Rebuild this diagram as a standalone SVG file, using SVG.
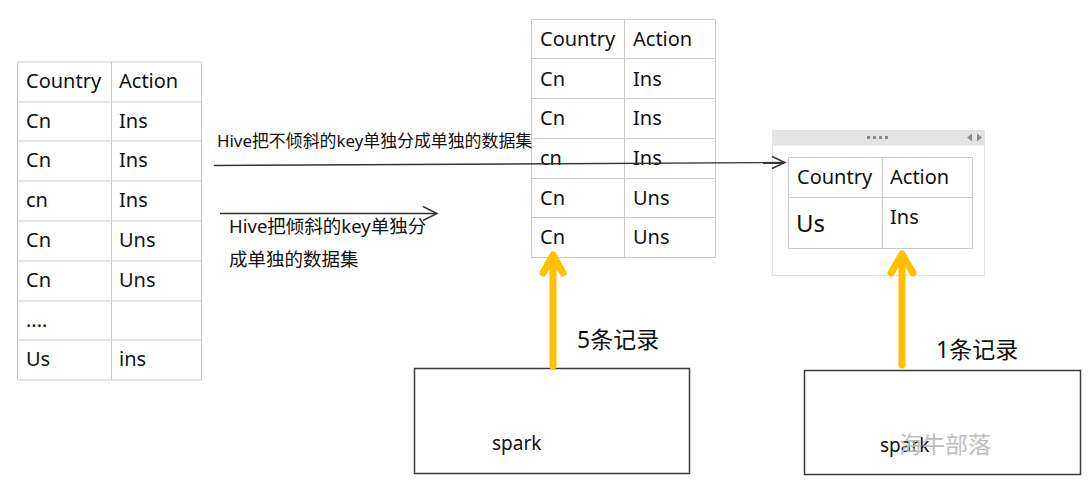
<svg xmlns="http://www.w3.org/2000/svg" width="1091" height="493" viewBox="0 0 1091 493">
<style>
text{font-family:"Noto Sans","Noto Sans CJK SC",sans-serif;fill:#111}
.t{font-size:20px}
.lab{font-size:16.9px}
.lab2{font-size:18.5px}
.rec{font-size:23px}
.grid{fill:none;stroke:#cbcbcb;stroke-width:1}
.conn{fill:none;stroke:#333;stroke-width:1.4}
.head{fill:none;stroke:#333;stroke-width:1.4;stroke-linejoin:miter}
.ya{fill:none;stroke:#FFC000;stroke-width:7;stroke-linecap:round;stroke-linejoin:round}
.box{fill:#fff;stroke:#3a3a3a;stroke-width:1.5}
</style>
<rect width="1091" height="493" fill="#fff"/>

<g id="table-left">
<path class="grid" d="M17.5 62H201.5V380H17.5Z M111.5 62V380 M17.5 102H201.5 M17.5 141H201.5 M17.5 181H201.5 M17.5 221H201.5 M17.5 261H201.5 M17.5 301H201.5 M17.5 340H201.5"/>
<text class="t" x="26" y="88">Country</text><text class="t" x="119" y="88">Action</text>
<text class="t" x="26" y="128">Cn</text><text class="t" x="119" y="128">Ins</text>
<text class="t" x="26" y="167">Cn</text><text class="t" x="119" y="167">Ins</text>
<text class="t" x="26" y="207">cn</text><text class="t" x="119" y="207">Ins</text>
<text class="t" x="26" y="247">Cn</text><text class="t" x="119" y="247">Uns</text>
<text class="t" x="26" y="287">Cn</text><text class="t" x="119" y="287">Uns</text>
<text class="t" x="26" y="327">....</text>
<text class="t" x="26" y="366">Us</text><text class="t" x="119" y="366">ins</text>
</g>

<g id="table-middle">
<path class="grid" d="M531.5 19.5H715.5V257.5H531.5Z M624.5 19.5V257.5 M531.5 58.5H715.5 M531.5 98.5H715.5 M531.5 138.5H715.5 M531.5 178.5H715.5 M531.5 217.5H715.5"/>
<text class="t" x="540" y="46">Country</text><text class="t" x="633" y="46">Action</text>
<text class="t" x="540" y="86">Cn</text><text class="t" x="633" y="86">Ins</text>
<text class="t" x="540" y="125">Cn</text><text class="t" x="633" y="125">Ins</text>
<text class="t" x="540" y="165">cn</text><text class="t" x="633" y="165">Ins</text>
<text class="t" x="540" y="205">Cn</text><text class="t" x="633" y="205">Uns</text>
<text class="t" x="540" y="244">Cn</text><text class="t" x="633" y="244">Uns</text>
</g>

<g id="panel-right">
<rect x="772.5" y="130.5" width="212" height="145" fill="#fff" stroke="#e2e2e2" stroke-width="1"/>
<rect x="772.5" y="130.5" width="212" height="15" fill="#e3e3e3"/>
<g fill="#8a8a8a">
<rect x="867" y="136" width="3" height="3"/><rect x="873" y="136" width="3" height="3"/><rect x="879" y="136" width="3" height="3"/><rect x="885" y="136" width="3" height="3"/>
<path d="M972 133.5L967 137.5L972 141.5Z"/><path d="M977 133.5L982 137.5L977 141.5Z"/>
</g>
<path class="grid" d="M788.5 157.5H972.5V248.5H788.5Z M882.5 157.5V248.5 M788.5 197.5H972.5"/>
<text class="t" x="797" y="184">Country</text><text class="t" x="890" y="184">Action</text>
<text x="796" y="232" style="font-size:24px">Us</text><text class="t" x="890" y="224">Ins</text>
</g>

<g id="spark-1">
<rect class="box" x="414.5" y="368.5" width="275" height="105"/>
<text x="492" y="450" style="font-size:19px">spark</text>
</g>

<g id="spark-2">
<rect class="box" x="804.5" y="370.5" width="276" height="104"/>
<text x="880" y="452" style="font-size:19px">spark</text>
</g>

<g id="connectors">
<path class="conn" d="M214 165.5L784 162.5"/>
<path class="head" d="M772 156.5L785 162.5L772 168.5"/>
<path class="conn" d="M220 213.5L436 213.5"/>
<path class="head" d="M423 206.5L437 213.5L423 220.5"/>
<path class="ya" d="M553 366V255 M543 273L553 255L563 273"/>
<path class="ya" d="M902 365V254 M891 273L902 254L913 273"/>
</g>

<g id="labels">
<text class="lab" x="217" y="147">Hive把不倾斜的key单独分成单独的数据集</text>
<text class="lab2" x="229" y="233">Hive把倾斜的key单独分</text>
<text class="lab2" x="229" y="266">成单独的数据集</text>
<text class="rec" x="577" y="348">5条记录</text>
<text class="rec" x="936" y="358">1条记录</text>
<text x="899" y="453" style="font-size:23px;fill:#bdbdbd">海牛部落</text>
</g>
</svg>
